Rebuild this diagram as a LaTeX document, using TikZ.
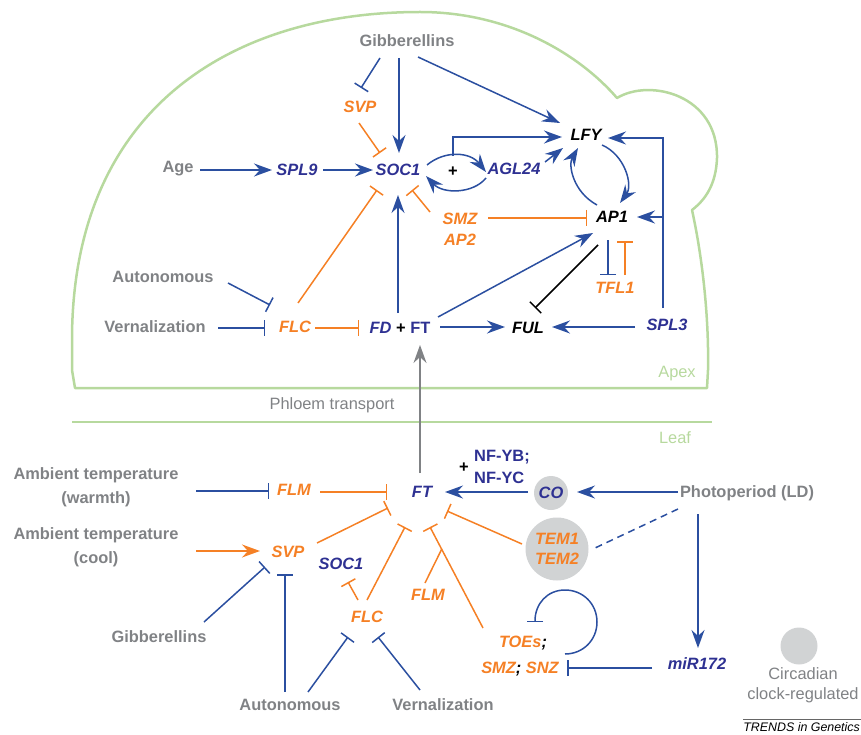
\documentclass[tikz,border=0pt]{standalone}
\usepackage{fontspec}
\setmainfont{Liberation Sans}
\usetikzlibrary{calc, arrows.meta, shapes}

\definecolor{lnblue}{HTML}{2B4FA0}
\definecolor{gnblue}{HTML}{2E3192}
\definecolor{gnorange}{HTML}{F58025}
\definecolor{lblgray}{HTML}{808285}
\definecolor{tissue}{HTML}{B7D99E}
\definecolor{clock}{HTML}{D1D3D4}
\newcommand{\figfont}{\fontsize{16.4}{20}\selectfont}

\begin{document}
\begin{tikzpicture}[x=1pt, y=-1pt,
lbl/.style = {% gray signal labels
    text=lblgray, font=\figfont\bfseries, inner sep=0pt, align=center},
gene/.style = {% gene names
    font=\figfont\bfseries\itshape, inner sep=0pt, align=center},
bg/.style = {gene, text=gnblue},
og/.style = {gene, text=gnorange},
kg/.style = {gene, text=black},
act/.style = {draw=lnblue, line width=1.5pt,
    -{Stealth[length=18pt, width=13pt, inset=6pt]}},
inh/.style = {draw=lnblue, line width=1.5pt, -{Bar[width=16pt]}},
oact/.style = {act, draw=gnorange},
oinh/.style = {inh, draw=gnorange},
tis/.style = {draw=tissue, line width=2.5pt, line join=round},
]
\useasboundingbox (0,0) rectangle (861,735);
% apex outline and leaf
\draw[tis] (75,388) -- (72,370) -- (72,340)
    .. controls (72,110) and (230,12) .. (420,12)
    .. controls (510,12) and (580,55) .. (617,98)
    .. controls (650,78) and (718,95) .. (717,158)
    .. controls (716,185) and (705,200) .. (692,210)
    .. controls (703,260) and (709,320) .. (708,370)
    -- (707,388) -- cycle;
\draw[tis] (72,422) -- (712,422);
\node[text=tissue, font=\figfont, inner sep=0pt] (apex) at (677,374) {Apex};
\node[text=tissue, font=\figfont, inner sep=0pt] (leaf) at (675,438) {Leaf};
\node[text=lblgray, font=\figfont, inner sep=0pt] (phloem) at (332,405) {Phloem transport};

% apex nodes
\node[lbl] (gibA) at (407,41) {Gibberellins};
\node[og] (svpA) at (360,107) {SVP};
\node[bg] (socA) at (398,170) {SOC1};
\node[lbl] (age) at (178,169) {Age};
\node[bg] (spl9) at (297,170) {SPL9};
\node[lbl] (autoA) at (163,277) {Autonomous};
\node[lbl] (vernA) at (155,327) {Vernalization};
\node[og] (flcA) at (295,327) {FLC};
\node[bg] (fdft) at (400,328) {FD \textcolor{black}{\upshape+} \upshape FT};
\node[bg] (agl24) at (514,169) {AGL24};
\node[kg] (lfy) at (586,135) {LFY};
\node[kg] (ap1) at (612,217) {AP1};
\node[og, font=\fontsize{16.4}{21}\selectfont\bfseries\itshape] (smz) at (460,229) {SMZ\\AP2};
\node[og] (tfl1) at (615,288) {TFL1};
\node[kg] (ful) at (528,328) {FUL};
\node[bg] (spl3) at (667,325) {SPL3};
\node[kg, font=\figfont\bfseries] (plusA) at (453,172) {+};

% leaf nodes
\node[lbl, font=\fontsize{16.4}{24}\selectfont\bfseries] (warm) at (96,487) {Ambient temperature\\(warmth)};
\node[lbl, font=\fontsize{16.4}{24}\selectfont\bfseries] (cool) at (96,547) {Ambient temperature\\(cool)};
\node[og] (flmB) at (294,490) {FLM};
\node[bg] (ftB) at (422,492) {FT};
\node[og] (svpB) at (288,552) {SVP};
\node[bg] (socB) at (341,564) {SOC1};
\node[lbl] (gibB) at (159,637) {Gibberellins};
\node[lbl] (autoB) at (290,705) {Autonomous};
\node[lbl] (vernB) at (443,705) {Vernalization};
\node[og] (flcB) at (367,617) {FLC};
\node[og] (flm2) at (428,595) {FLM};
\node[bg, circle, fill=clock, minimum size=34pt] (co) at (551,493) {CO};
\node[og, circle, fill=clock, minimum size=63pt] (tem) at (557,549) {TEM1\\TEM2};
\node[bg, font=\fontsize{16.4}{22}\selectfont\bfseries, align=left] (nfy) at (502,467) {NF-YB;\\NF-YC};
\node[kg, font=\figfont\bfseries] (plusB) at (464,468) {+};
\node[lbl] (photo) at (747,493) {Photoperiod (LD)};
\node[bg] (mir) at (697,664) {miR172};
\node[og] (toes) at (523,643) {TOEs\textcolor{black}{;}};
\node[og] (smzsnz) at (520,669) {SMZ\textcolor{black}{;} SNZ};
% legend
\node[circle, fill=clock, minimum size=37pt, inner sep=0pt] (circ) at (799,646) {};
\node[text=lblgray, font=\figfont, align=center, inner sep=0pt] (circtxt) at (803,685) {Circadian\\clock-regulated};
\node[font=\fontsize{12.4}{14}\selectfont\itshape, inner sep=0pt, anchor=north east] (trends) at (860,722) {TRENDS in Genetics};
\draw[black!60, line width=1pt] ($(trends.north west)+(0,-3)$) -- ($(trends.north east)+(1,-3)$);

% apex connectors
\draw[inh] ($(gibA)+(-27,17)$) -- ($(svpA)+(1,-19)$);
\draw[act] ($(gibA)+(-8,17)$) -- ($(socA)+(1,-17)$);
\draw[act] ($(gibA)+(11,16)$) -- ($(lfy)+(-26,-12)$);
\draw[oinh] ($(svpA)+(-1,16)$) -- ($(socA)+(-18,-17)$);
\draw[act] ($(age)+(22,1)$) -- ($(spl9)+(-25,0)$);
\draw[act] ($(spl9)+(26,0)$) -- ($(socA)+(-25,0)$);
\draw[oinh] ($(flcA)+(3,-24)$) -- ($(socA)+(-21,20)$);
\draw[act] ($(fdft)+(-2,-15)$) -- ($(socA)+(0,25)$);
\draw[oinh] ($(smz)+(-30,-17)$) -- ($(socA)+(14,20)$);
\draw[inh] ($(autoA)+(65,6)$) -- ($(flcA)+(-25,-22)$);
\draw[inh] ($(vernA)+(63,1)$) -- ($(flcA)+(-30,1)$);
\draw[oinh] ($(flcA)+(20,1)$) -- ($(fdft)+(-41,0)$);
% SOC1 <-> AGL24
\draw[act] ($(socA)+(29,-5)$) .. controls ($(socA)+(47,-20)$) and ($(agl24)+(-44,-17)$) .. ($(agl24)+(-28,3)$);
\draw[act] ($(agl24)+(-28,9)$) .. controls ($(agl24)+(-41,25)$) and ($(socA)+(45,24)$) .. ($(socA)+(28,6)$);
\draw[act] ($(socA)+(55,-14)$) |- ($(lfy)+(-24,2)$);
\draw[act] ($(agl24)+(31,-7)$) -- ($(lfy)+(-23,13)$);
% LFY <-> AP1
\draw[act] ($(lfy)+(16,10)$) .. controls ($(lfy)+(39,20)$) and ($(ap1)+(21,-32)$) .. ($(ap1)+(8,-14)$);
\draw[act] ($(ap1)+(-15,-12)$) .. controls ($(ap1)+(-39,-25)$) and ($(lfy)+(-18,30)$) .. ($(lfy)+(-8,13)$);
\coordinate (splturn) at ($(spl3)+(-4,-108)$);
\draw[act] ($(spl3)+(-4,-17)$) |- ($(lfy)+(22,3)$);
\draw[act] (splturn) -- ($(ap1)+(25,0)$);
\draw[oinh] ($(smz)+(28,-11)$) -- ($(ap1)+(-25,1)$);
\draw[act] ($(fdft)+(38,-11)$) -- ($(ap1)+(-19,16)$);
\draw[act] ($(fdft)+(40,-1)$) -- ($(ful)+(-23,-1)$);
\draw[inh, draw=black] ($(ap1)+(-14,28)$) -- ($(ful)+(7,-20)$);
\draw[inh] ($(ap1)+(-4,23)$) -- ($(tfl1)+(-7,-13)$);
\draw[oinh] ($(tfl1)+(10,-13)$) -- ($(ap1)+(13,24)$);
\draw[act] ($(spl3)+(-32,2)$) -- ($(ful)+(24,-1)$);
% phloem transport
\draw[act, draw=lblgray] ($(ftB)+(-2,-19)$) -- ($(fdft)+(20,17)$);

% leaf connectors
\draw[inh] ($(warm)+(100,4)$) -- ($(flmB)+(-25,1)$);
\draw[oinh] ($(flmB)+(26,2)$) -- ($(ftB)+(-35,0)$);
\draw[oact] ($(cool)+(100,4)$) -- ($(svpB)+(-28,-1)$);
\draw[oinh] ($(svpB)+(29,-9)$) -- ($(ftB)+(-34,16)$);
\draw[inh] ($(gibB)+(45,-15)$) -- ($(svpB)+(-23,15)$);
\draw[inh] ($(autoB)+(-5,-13)$) -- ($(svpB)+(-3,22)$);
\draw[inh] ($(autoB)+(18,-13)$) -- ($(flcB)+(-19,20)$);
\draw[inh] ($(vernB)+(-23,-15)$) -- ($(flcB)+(11,20)$);
\draw[oinh] ($(flcB)+(-9,-17)$) -- ($(socB)+(7,18)$);
\draw[oinh] ($(flcB)+(0,-17)$) -- ($(ftB)+(-17,35)$);
\coordinate (toesout) at ($(toes)+(-40,-15)$);
\coordinate (ftin) at ($(ftB)+(8,35)$);
\draw[oinh] (toesout) -- (ftin);
\draw[oinh, -] ($(flm2)+(-3,-12)$) -- ($(toesout)!0.78!(ftin)$);
\draw[oinh] ($(tem)+(-35,-5)$) -- ($(ftB)+(25,19)$);
\draw[act] ($(co)+(-23,-1)$) -- ($(ftB)+(23,0)$);
\draw[act] ($(photo)+(-69,-1)$) -- ($(co)+(26,-1)$);
\draw[lnblue, line width=1.5pt, dash pattern=on 7pt off 5pt] ($(photo)+(-69,16)$) -- ($(tem)+(38,-1)$);
\draw[act] ($(photo)+(-49,21)$) -- ($(mir)+(1,-16)$);
\draw[inh] ($(mir)+(-45,4)$) -- ($(smzsnz)+(47,-1)$);
% self-repression loop
\draw[inh] ($(toes)+(42,11)$)
    .. controls ($(toes)+(60,11)$) and ($(toes)+(74,-3)$) .. ($(toes)+(74,-21)$)
    .. controls ($(toes)+(74,-39)$) and ($(toes)+(60,-53)$) .. ($(toes)+(42,-53)$)
    .. controls ($(toes)+(24,-53)$) and ($(toes)+(12,-39)$) .. ($(toes)+(12,-21)$);
\end{tikzpicture}
\end{document}
